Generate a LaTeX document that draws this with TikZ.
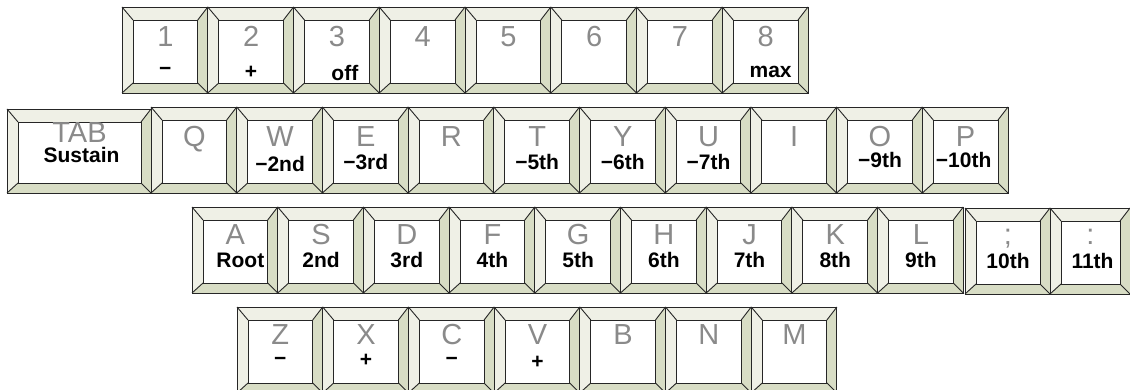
\documentclass[tikz,border=0pt]{standalone}
\usepackage{fontspec}
\setmainfont{Liberation Sans}
\definecolor{bevlight}{HTML}{EFF0E6}
\definecolor{bevdark}{HTML}{D8DDC5}
\definecolor{letgray}{HTML}{8A8A8A}
\tikzset{
  keyline/.style={draw=black!85, line width=0.9pt},
  letter/.style={inner sep=0pt, anchor=base, text=letgray, font=\fontsize{29}{29}\selectfont},
  keylabel/.style={inner sep=0pt, anchor=base, text=black, font=\fontsize{21}{21}\selectfont\bfseries},
}
\def\kh{86}
% #1 id, #2 x, #3 y, #4 w, #5 letter, #6 letter baseline offset, #7 label, #8 label baseline offset, #9 label x shift
\newcommand{\kbkey}[9]{%
  \fill[bevlight] (#2,#3) rectangle ({#2+#4},{#3+\kh});
  \fill[bevdark] ({#2+#4},#3) -- ({#2+#4},{#3+\kh}) -- ({#2+#4-10},{#3+\kh-10}) -- ({#2+#4-10},{#3+13}) -- cycle;
  \fill[bevdark] (#2,{#3+\kh}) -- ({#2+#4},{#3+\kh}) -- ({#2+#4-10},{#3+\kh-10}) -- ({#2+11},{#3+\kh-10}) -- cycle;
  \draw[keyline, fill=white] ({#2+11},{#3+13}) rectangle ({#2+#4-10},{#3+\kh-10});
  \draw[keyline] (#2,#3) -- ({#2+11},{#3+13})
    ({#2+#4},#3) -- ({#2+#4-10},{#3+13})
    (#2,{#3+\kh}) -- ({#2+11},{#3+\kh-10})
    ({#2+#4},{#3+\kh}) -- ({#2+#4-10},{#3+\kh-10});
  \draw[keyline] (#2,#3) rectangle ({#2+#4},{#3+\kh});
  \node[letter] (#1l) at ({#2+(#4+1)/2},{#3+#6}) {#5};
  \node[keylabel] (#1b) at ({#2+(#4+1)/2+#9},{#3+#8}) {#7};
}
\begin{document}
\begin{tikzpicture}[x=1pt,y=-1pt]
\useasboundingbox (0,0) rectangle (1130,390);
\clip (0,0) rectangle (1130,390);
% Row 1
\kbkey{k1}{122}{7}{85.75}{1}{40}{−}{69}{0}
\kbkey{k2}{207.75}{7}{85.75}{2}{40}{+}{72}{0}
\kbkey{k3}{293.5}{7}{85.75}{3}{40}{off}{74}{8}
\kbkey{k4}{379.25}{7}{85.75}{4}{40}{}{70}{0}
\kbkey{k5}{465}{7}{85.75}{5}{40}{}{70}{0}
\kbkey{k6}{550.75}{7}{85.75}{6}{40}{}{70}{0}
\kbkey{k7}{636.5}{7}{85.75}{7}{40}{}{70}{0}
\kbkey{k8}{722.25}{7}{85.75}{8}{40}{max}{71}{5}
% Row 2
\def\kh{84}
\kbkey{kTAB}{7}{109}{144}{TAB}{34}{Sustain}{54}{2}
\def\kh{86}
\kbkey{kQ}{151}{107}{85.7}{Q}{40}{}{60}{0}
\kbkey{kW}{236.7}{107}{85.7}{W}{40}{−2nd}{65}{0}
\kbkey{kE}{322.4}{107}{85.7}{E}{40}{−3rd}{63}{0}
\kbkey{kR}{408.1}{107}{85.7}{R}{40}{}{60}{0}
\kbkey{kT}{493.8}{107}{85.7}{T}{40}{−5th}{63}{0}
\kbkey{kY}{579.5}{107}{85.7}{Y}{40}{−6th}{63}{0}
\kbkey{kU}{665.2}{107}{85.7}{U}{40}{−7th}{63}{0}
\kbkey{kI}{750.9}{107}{85.7}{I}{40}{}{60}{0}
\kbkey{kO}{836.6}{107}{85.7}{O}{40}{−9th}{61}{0}
\kbkey{kP}{922.3}{107}{85.7}{P}{40}{−10th}{61}{-2}
% Row 3
\kbkey{kA}{192}{207}{85.7}{A}{38}{Root}{61}{5}
\kbkey{kS}{277.7}{207}{85.7}{S}{38}{2nd}{61}{0}
\kbkey{kD}{363.4}{207}{85.7}{D}{38}{3rd}{61}{0}
\kbkey{kF}{449.1}{207}{85.7}{F}{38}{4th}{61}{0}
\kbkey{kG}{534.8}{207}{85.7}{G}{38}{5th}{61}{0}
\kbkey{kH}{620.5}{207}{85.7}{H}{38}{6th}{61}{0}
\kbkey{kJ}{706.2}{207}{85.7}{J}{38}{7th}{61}{0}
\kbkey{kK}{791.9}{207}{85.7}{K}{38}{8th}{61}{0}
\kbkey{kL}{877.6}{207}{85.7}{L}{38}{9th}{61}{0}
\kbkey{kSemi}{965}{208}{85}{;}{36}{10th}{61}{0}
\kbkey{kColon}{1050}{208}{80}{:}{36}{11th}{61}{2}
% Row 4
\kbkey{kZ}{237}{307}{85.7}{Z}{37}{−}{58}{0}
\kbkey{kX}{322.7}{307}{85.7}{X}{37}{+}{59}{0}
\kbkey{kC}{408.4}{307}{85.7}{C}{37}{−}{58}{0}
\kbkey{kV}{494.1}{307}{85.7}{V}{37}{+}{61}{0}
\kbkey{kB}{579.8}{307}{85.7}{B}{37}{}{58}{0}
\kbkey{kN}{665.5}{307}{85.7}{N}{37}{}{58}{0}
\kbkey{kM}{751.2}{307}{85.7}{M}{37}{}{58}{0}
\end{tikzpicture}
\end{document}
